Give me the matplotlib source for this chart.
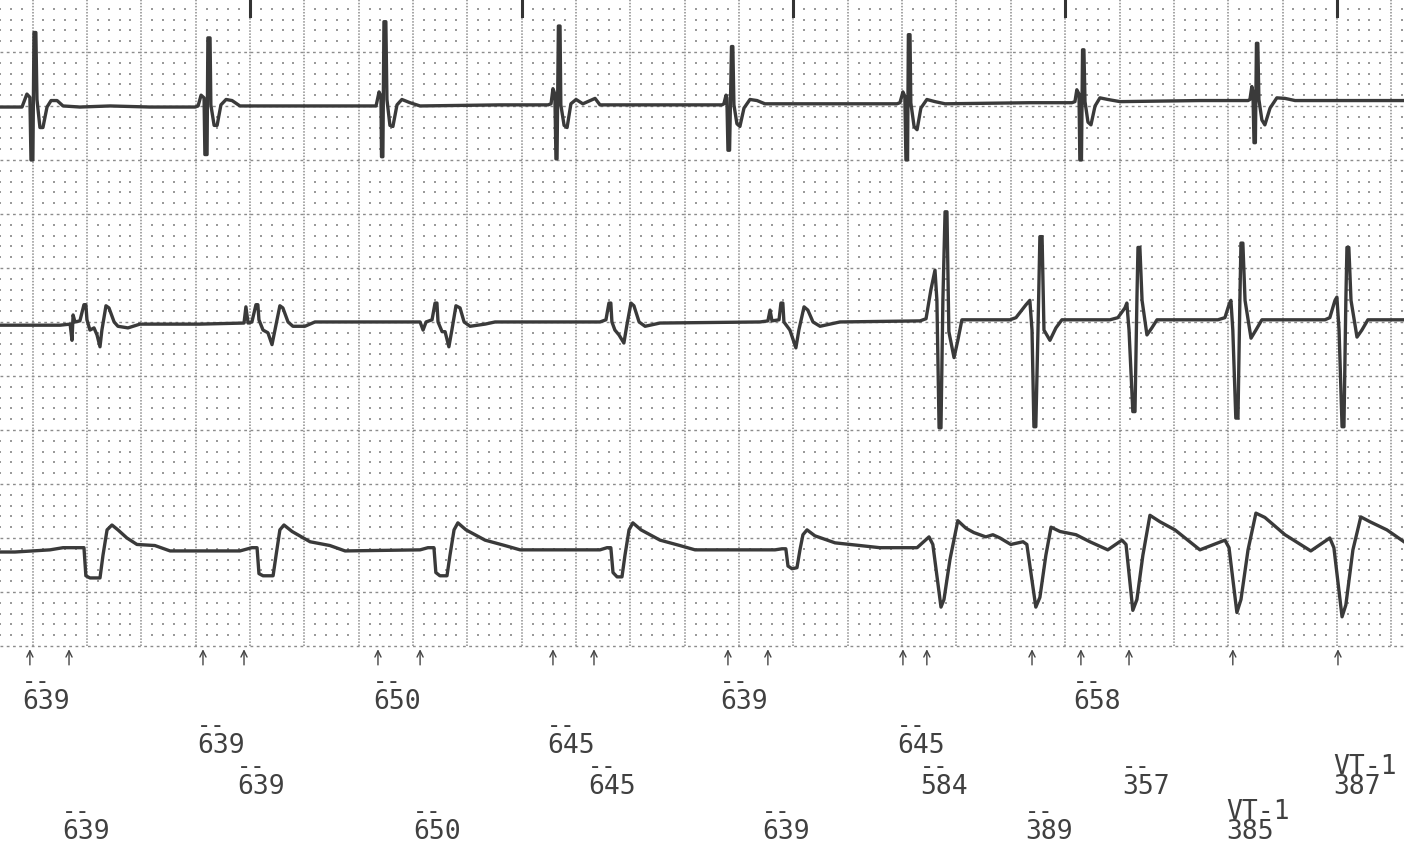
import matplotlib
matplotlib.use("Agg")
import matplotlib.pyplot as plt
import numpy as np

# ---------------- data (time in ms, deflection in mm; 10 mm = 1 mV) ----------------
lead1_t = [0, 81, 99, 110, 114, 121, 125, 132, 136, 147, 158, 173, 188, 210, 232, 294, 405, 552, 718,
           729, 740, 751, 754, 762, 765, 773, 776, 788, 799, 813, 832, 854, 883, 994, 1214, 1373,
           1384, 1395, 1402, 1404, 1409, 1413, 1420, 1424, 1435, 1446, 1461, 1479, 1509, 1546, 1840, 2017,
           2028, 2035, 2042, 2046, 2050, 2055, 2061, 2064, 2076, 2087, 2101, 2120, 2145, 2190, 2208, 2502, 2657,
           2664, 2672, 2675, 2679, 2685, 2692, 2697, 2701, 2712, 2723, 2738, 2760, 2786, 2815, 3128, 3301,
           3312, 3323, 3330, 3334, 3340, 3343, 3349, 3352, 3364, 3375, 3389, 3411, 3441, 3478, 3790, 3945,
           3956, 3963, 3971, 3974, 3980, 3984, 3989, 3993, 4004, 4015, 4030, 4048, 4077, 4122, 4416, 4593,
           4600, 4607, 4611, 4615, 4620, 4624, 4629, 4633, 4644, 4655, 4674, 4699, 4729, 4766, 4968, 5167]
lead1_a = [-0.2, -0.2, 1.0, 0.7, -5.1, -5.1, 6.7, 6.7, 0.5, -2.1, -2.1, -0.2, 0.4, 0.4, -0.1, -0.2, -0.1, -0.2, -0.2,
           -0.1, 0.9, 0.65, -4.6, -4.6, 6.2, 6.2, 0.0, -1.9, -1.9, 0.0, 0.5, 0.4, -0.1, -0.1, -0.1, -0.1,
           -0.1, 1.2, 0.8, -4.8, -4.8, 7.7, 7.7, 0.5, -1.9, -2.0, 0.0, 0.5, 0.2, -0.1, 0.0, 0.0,
           0.1, 1.5, 1.0, -5.0, -5.0, 7.3, 7.3, 0.0, -1.9, -2.1, 0.1, 0.5, 0.1, 0.6, 0.0, 0.0, 0.0,
           0.1, 0.9, 0.65, -4.2, -4.2, 5.4, 5.4, 0.0, -1.75, -2.0, -0.3, 0.5, 0.4, 0.1, 0.1, 0.1,
           0.2, 1.2, 0.8, -5.1, -5.1, 6.5, 6.5, 0.2, -2.0, -2.3, -0.3, 0.5, 0.3, 0.1, 0.2, 0.2,
           0.3, 1.4, 1.0, -5.1, -5.1, 5.1, 5.1, 0.3, -1.6, -1.85, -0.1, 0.65, 0.5, 0.3, 0.4, 0.4,
           0.5, 1.7, 1.2, -3.5, -3.5, 5.7, 5.7, 0.5, -1.4, -1.85, -0.3, 0.65, 0.6, 0.4, 0.4, 0.4]

lead2_t = [0, 221, 258, 265, 269, 276, 294, 309, 316, 320, 331, 346, 357, 368, 375, 390, 401, 420, 434, 471, 515, 736,
           898, 905, 913, 927, 942, 949, 953, 968, 986, 1001, 1012, 1030, 1041, 1060, 1078, 1122, 1159, 1362,
           1546, 1557, 1568, 1590, 1601, 1608, 1612, 1627, 1638, 1652, 1663, 1678, 1693, 1708, 1730, 1785, 1822, 2208,
           2230, 2241, 2248, 2252, 2263, 2278, 2296, 2307, 2322, 2333, 2352, 2374, 2429, 2797,
           2826, 2834, 2841, 2867, 2874, 2881, 2885, 2907, 2929, 2940, 2959, 2973, 2992, 3018, 3091, 3386,
           3408, 3426, 3441, 3448, 3456, 3463, 3470, 3478, 3485, 3492, 3511, 3525, 3540, 3717,
           3739, 3776, 3790, 3798, 3805, 3812, 3820, 3827, 3835, 3842, 3864, 3886, 3908, 4085,
           4114, 4140, 4147, 4155, 4169, 4177, 4184, 4188, 4195, 4203, 4221, 4239, 4258, 4482,
           4508, 4523, 4530, 4537, 4548, 4556, 4563, 4567, 4574, 4582, 4604, 4622, 4644, 4876,
           4894, 4913, 4920, 4928, 4939, 4946, 4953, 4957, 4964, 4972, 4994, 5012, 5034, 5167]
lead2_a = [-0.3, -0.3, -0.2, -1.7, 0.65, 0.0, 0.1, 1.6, 1.6, 0.2, -0.75, -0.55, -1.2, -2.3, -0.75, 1.5, 1.3, 0.0, -0.4, -0.55, -0.2, -0.2,
           -0.1, 1.4, -0.1, 0.0, 1.6, 1.6, 0.2, -0.75, -1.0, -2.1, -0.75, 1.5, 1.3, 0.0, -0.4, -0.4, 0.0, 0.0,
           0.0, -0.75, 0.0, 0.2, 1.75, 1.75, 0.0, -0.9, -0.9, -2.3, -0.75, 1.5, 1.3, 0.0, -0.4, -0.2, 0.0, 0.0,
           0.2, 1.75, 1.75, 0.0, -0.75, -1.2, -1.95, -0.3, 1.75, 1.5, 0.0, -0.4, -0.1, 0.0,
           0.1, 1.1, 0.1, 0.2, 1.75, 1.75, 0.0, -0.75, -2.4, -0.75, 1.4, 1.1, 0.0, -0.4, 0.0, 0.1,
           0.3, 3.0, 4.8, 2.0, -9.8, -9.8, 2.0, 10.2, 10.2, -0.9, -3.3, -1.7, 0.2, 0.2,
           0.4, 1.6, 2.0, -0.75, -9.7, -9.7, -0.75, 7.9, 7.9, -0.75, -1.7, -0.55, 0.2, 0.2,
           0.4, 1.3, 1.75, -0.75, -8.3, -8.3, 2.0, 6.9, 6.9, 2.0, -1.2, -0.55, 0.2, 0.2,
           0.4, 1.6, 2.0, -0.75, -8.9, -8.9, 2.0, 7.3, 7.3, 2.0, -1.5, -0.75, 0.2, 0.2,
           0.4, 2.0, 2.3, -0.75, -9.7, -9.7, 2.0, 6.9, 6.9, 2.0, -1.4, -0.75, 0.2, 0.2]

lead3_t = [0, 55, 184, 232, 309, 316, 331, 368, 379, 394, 412, 434, 467, 504, 570, 626, 883,
           927, 946, 953, 968, 1005, 1016, 1030, 1045, 1075, 1141, 1214, 1270, 1546,
           1575, 1597, 1604, 1619, 1645, 1656, 1671, 1685, 1715, 1785, 1858, 1914, 2208,
           2234, 2248, 2256, 2271, 2289, 2300, 2315, 2329, 2359, 2429, 2502, 2558, 2852,
           2878, 2892, 2900, 2915, 2933, 2944, 2955, 2970, 2999, 3073, 3165, 3238, 3375,
           3419, 3433, 3463, 3474, 3496, 3525, 3555, 3584, 3628, 3654, 3680, 3720, 3765,
           3779, 3812, 3827, 3849, 3868, 3901, 3960, 4011, 4077, 4129,
           4144, 4169, 4184, 4206, 4232, 4269, 4324, 4416, 4508,
           4523, 4552, 4567, 4593, 4622, 4655, 4729, 4824, 4894,
           4909, 4939, 4953, 4979, 5008, 5042, 5104, 5167]
lead3_a = [-0.2, -0.2, 0.0, 0.2, 0.2, -2.4, -2.6, -2.6, -0.5, 1.85, 2.3, 1.85, 1.1, 0.5, 0.4, -0.1, -0.1,
           0.2, 0.2, -2.2, -2.4, -2.4, -0.5, 1.85, 2.3, 1.7, 0.75, 0.4, -0.1, 0.0,
           0.2, 0.2, -2.1, -2.4, -2.4, -0.5, 1.85, 2.5, 1.85, 0.9, 0.4, 0.0, 0.0,
           0.2, 0.2, -2.1, -2.5, -2.5, -0.5, 1.85, 2.5, 1.85, 0.9, 0.4, 0.0, 0.0,
           0.1, 0.1, -1.5, -1.75, -1.65, 0.0, 1.4, 1.85, 1.3, 0.65, 0.4, 0.2, 0.2,
           1.2, 0.5, -5.3, -4.6, -0.9, 2.7, 2.0, 1.6, 1.2, 1.4, 1.1, 0.5, 0.75,
           0.5, -5.3, -4.4, -0.5, 2.1, 1.7, 1.4, 0.75, 0.0, 0.9,
           0.5, -5.6, -4.6, -0.5, 3.2, 2.6, 1.85, 0.0, 0.9,
           0.2, -5.8, -4.6, 0.0, 3.4, 3.0, 1.4, -0.1, 1.1,
           0.2, -6.2, -5.1, 0.0, 3.05, 2.6, 1.85, 0.75]

second_marks_ms = [920, 1920, 2920, 3920, 4920]
marker_ms = [110, 254, 747, 898, 1391, 1546, 2035, 2186, 2679, 2826, 3323, 3411,
             3798, 3978, 4155, 4537, 4924]

label_ms = [81, 1373, 2650, 3949, 725, 2013, 3301, 872, 2164, 3386, 4129, 4905,
            228, 1520, 2804, 3772, 4512]
label_row = [1, 1, 1, 1, 2, 2, 2, 3, 3, 3, 3, 3, 4, 4, 4, 4, 4]
label_value = ["639", "650", "639", "658", "639", "645", "645", "639", "645", "584",
               "357", "387", "639", "650", "639", "389", "385"]
label_tag = ["--", "--", "--", "--", "--", "--", "--", "--", "--", "--",
             "--", "VT-1", "--", "--", "--", "--", "VT-1"]

# ---------------- layout ----------------
T_END = 5167
Y_BOT, Y_TOP = -18.89, 59.81
baselines = [50.1, 30.0, 8.9]
row_y = {1: -5.19, 2: -9.26, 3: -13.06, 4: -17.22}
grid_col = "#8c8c8c"
ink = "#3a3a3a"

fig = plt.figure(figsize=(14.04, 8.5), dpi=100)
ax = fig.add_axes([0, 0, 1, 1])
ax.set_xlim(0, T_END)
ax.set_ylim(Y_BOT, Y_TOP)
ax.axis("off")
fig.patch.set_facecolor("white")

# dot grid (1 mm = 40 ms x 1 mm)
gx = np.arange(0, T_END + 1, 40)
gy = np.arange(1, 60, 1)
GX, GY = np.meshgrid(gx, gy)
mask = ((GX - 120) % 200 != 0) & (GY % 5 != 0)
ax.scatter(GX[mask], GY[mask], s=1.3, color="#9a9a9a", marker="s", linewidths=0, zorder=1)

# major grid
for xv in np.arange(120, T_END, 200):
    ax.plot([xv, xv], [0, Y_TOP], color=grid_col, lw=1.1, ls=(0, (1, 1)), zorder=1)
for yv in np.arange(0, 60, 5):
    ax.plot([0, T_END], [yv, yv], color=grid_col, lw=1.0, ls=(0, (2, 2.5)), zorder=1)

# one-second marks at the top
for xv in second_marks_ms:
    ax.plot([xv, xv], [Y_TOP, Y_TOP - 1.5], color="#333333", lw=2.2, zorder=3)

# traces
for t, a, b in [(lead1_t, lead1_a, baselines[0]),
                (lead2_t, lead2_a, baselines[1]),
                (lead3_t, lead3_a, baselines[2])]:
    ax.plot(t, np.array(a) + b, color=ink, lw=2.4, solid_joinstyle="round", zorder=4)

# event markers
for xv in marker_ms:
    ax.annotate("", xy=(xv, -0.3), xytext=(xv, -1.75),
                arrowprops=dict(arrowstyle="->,head_length=0.45,head_width=0.22",
                                color="#444444", lw=1.0, shrinkA=0, shrinkB=0))

# interval labels
for xv, r, v, tag in zip(label_ms, label_row, label_value, label_tag):
    y = row_y[r]
    ax.text(xv, y, v, fontsize=19, family="DejaVu Sans Mono", color="#404040",
            ha="left", va="center")
    ax.text(xv, y + 1.85, tag, fontsize=19 if tag != "--" else 17,
            family="DejaVu Sans Mono", color="#404040", ha="left", va="center")

fig.savefig("out.png", dpi=100, facecolor="white")
